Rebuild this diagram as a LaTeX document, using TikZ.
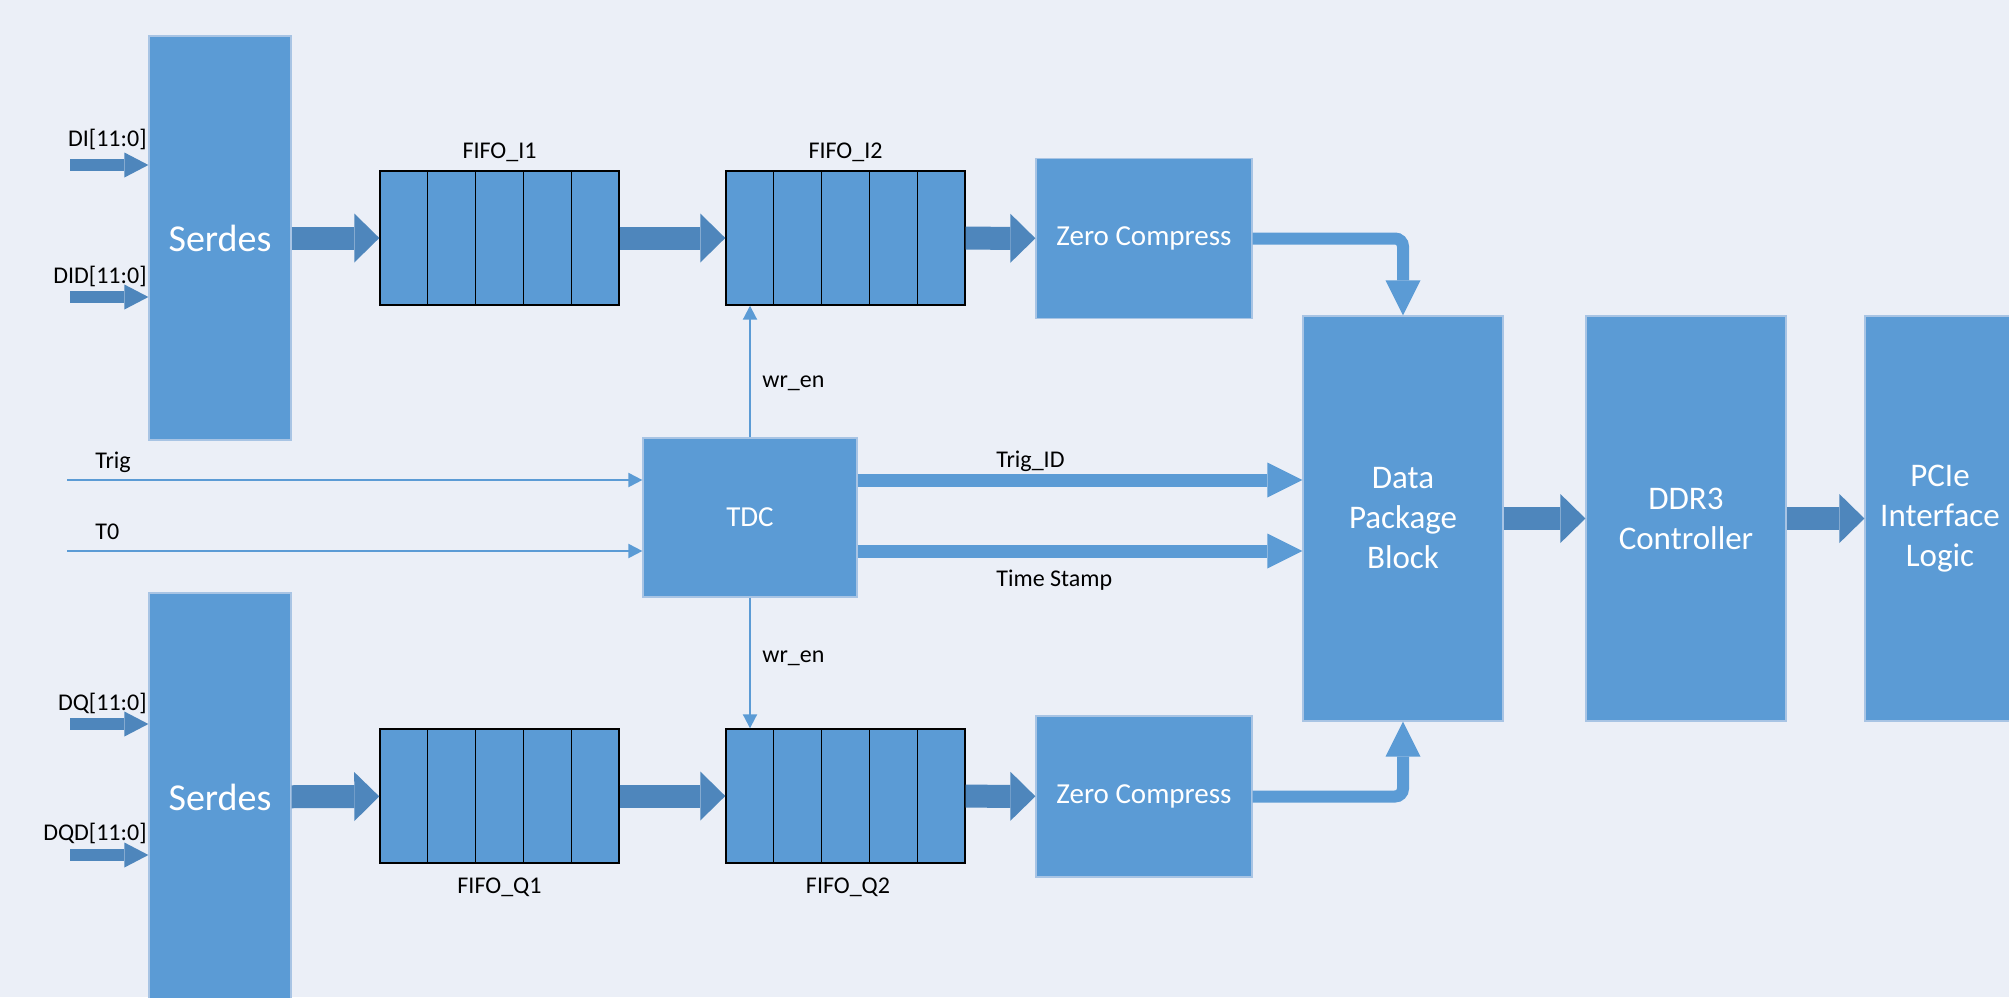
\documentclass[tikz,border=0pt]{standalone}
\usepackage{fontspec}
\setmainfont{Carlito}
\usetikzlibrary{arrows.meta,calc}

\definecolor{bgblue}{RGB}{235,239,247}
\definecolor{boxblue}{RGB}{91,155,213}
\definecolor{busblue}{RGB}{78,134,188}
\definecolor{edgeblue}{RGB}{168,196,228}

\begin{document}
\begin{tikzpicture}[x=0.5pt,y=-0.5pt,
  block/.style={draw=edgeblue,line width=0.6pt,fill=boxblue,text=white,align=center,inner sep=0pt},
  tall/.style={block,minimum width=100pt,minimum height=202.5pt,font=\fontsize{16.5}{20}\selectfont},
  fifo/.style={draw=black,line width=0.7pt,fill=boxblue,minimum width=119.5pt,minimum height=67pt,inner sep=0pt},
  lbl/.style={font=\fontsize{12}{14}\selectfont,inner sep=0pt,anchor=base}]
\tikzstyle{bus}=[busblue,line width=11.5pt,-{Triangle[length=12.5pt,width=24.5pt,line width=0pt]}]
\tikzstyle{inbus}=[busblue,line width=6pt,-{Triangle[length=12pt,width=12.5pt,line width=0pt]}]
\tikzstyle{tagbus}=[boxblue,line width=6.5pt,-{Triangle[length=17.5pt,width=17.5pt,line width=0pt]}]
\tikzstyle{sig}=[boxblue,line width=1pt,-{Triangle[length=7pt,width=7pt]}]

% canvas
\fill[bgblue] (0,0) rectangle (2009,997);
\useasboundingbox (0,0) rectangle (2009,997);
\clip (0,0) rectangle (2009,997);

% blocks
\node[block,minimum width=71pt,minimum height=202pt,font=\fontsize{19}{23}\selectfont] (serdesI) at (220,238) {Serdes};
\node[block,minimum width=71pt,minimum height=204pt,font=\fontsize{19}{23}\selectfont] (serdesQ) at (220,797) {Serdes};
\node[fifo] (fifoI1) at (499.5,238) {};
\node[fifo] (fifoI2) at (845.5,238) {};
\node[fifo] (fifoQ1) at (499.5,796) {};
\node[fifo] (fifoQ2) at (845.5,796) {};
\node[block,minimum width=108pt,minimum height=80pt,font=\fontsize{14.5}{17}\selectfont] (zcI) at (1144,238.5) {Zero Compress};
\node[block,minimum width=108pt,minimum height=80.5pt,font=\fontsize{14.5}{17}\selectfont] (zcQ) at (1144,796.5) {Zero Compress};
\node[block,minimum width=107pt,minimum height=79.5pt,font=\fontsize{14.5}{17}\selectfont] (tdc) at (750,517.5) {TDC};
\node[tall] (dpb) at (1403,518.5) {Data\\Package\\Block};
\node[tall] (ddr) at (1686,518.5) {DDR3\\Controller};
\node[tall,minimum width=75pt] (pcie) at (1940,518.5) {PCIe\\Interface\\Logic};

% fifo cells
\foreach \f in {fifoI1,fifoI2,fifoQ1,fifoQ2}
  \foreach \k in {1,...,4}
    \draw[line width=0.7pt] ($(\f.north west)!\k/5!(\f.north east)$) -- ($(\f.south west)!\k/5!(\f.south east)$);

\node[lbl] (lblI1) at (499.5,158) {FIFO\_I1};
\node[lbl] (lblI2) at (845.5,158) {FIFO\_I2};
\node[lbl] (lblQ1) at (499.5,893) {FIFO\_Q1};
\node[lbl] (lblQ2) at (848,893) {FIFO\_Q2};

% data inputs
\coordinate (diIn) at (70,165);
\coordinate (didIn) at (70,297);
\coordinate (dqIn) at (70,724);
\coordinate (dqdIn) at (70,855);
\draw[inbus] (diIn) -- (diIn -| serdesI.west);
\draw[inbus] (didIn) -- (didIn -| serdesI.west);
\draw[inbus] (dqIn) -- (dqIn -| serdesQ.west);
\draw[inbus] (dqdIn) -- (dqdIn -| serdesQ.west);
\node[lbl,anchor=base east] (lblDI) at (147,146) {DI[11:0]};
\node[lbl,anchor=base east] (lblDID) at (147,283) {DID[11:0]};
\node[lbl,anchor=base east] (lblDQ) at (147,710) {DQ[11:0]};
\node[lbl,anchor=base east] (lblDQD) at (147,840) {DQD[11:0]};

% data path
\draw[bus] (serdesI) -- (fifoI1);
\draw[bus] (fifoI1) -- (fifoI2);
\draw[bus] (fifoI2) -- (zcI);
\draw[bus] (serdesQ) -- (fifoQ1);
\draw[bus] (fifoQ1) -- (fifoQ2);
\draw[bus] (fifoQ2) -- (zcQ);
\draw[bus] (dpb) -- (ddr);
\draw[bus] (ddr) -- (pcie);
\draw[tagbus,line width=6pt,rounded corners=4pt] (zcI) -| (dpb);
\draw[tagbus,line width=6pt,rounded corners=4pt] (zcQ) -| (dpb);

% trigger and timing
\coordinate (trigIn) at (67,480);
\coordinate (tzeroIn) at (67,551);
\draw[sig] (trigIn) -- (trigIn -| tdc.west);
\draw[sig] (tzeroIn) -- (tzeroIn -| tdc.west);
\node[lbl,anchor=base west] (lblTrig) at (95,468) {Trig};
\node[lbl,anchor=base west] (lblT0) at (95,539) {T0};
\draw[tagbus] (tdc.east |- trigIn) -- (trigIn -| dpb.west);
\draw[tagbus] (tdc.east |- tzeroIn) -- (tzeroIn -| dpb.west);
\node[lbl,anchor=base west] (lblTrigID) at (996,467) {Trig\_ID};
\node[lbl,anchor=base west] (lblStamp) at (996,586) {Time Stamp};

% write enables
\draw[sig] (tdc) -- (tdc |- fifoI2.south);
\draw[sig] (tdc) -- (tdc |- fifoQ2.north);
\node[lbl,anchor=base west] (lblWrI) at (762,387) {wr\_en};
\node[lbl,anchor=base west] (lblWrQ) at (762,662) {wr\_en};
\end{tikzpicture}
\end{document}
